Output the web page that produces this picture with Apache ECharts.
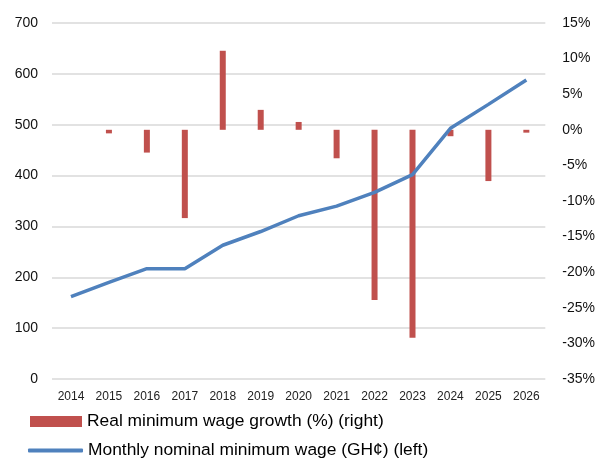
<!DOCTYPE html>
<html>
<head>
<meta charset="utf-8">
<script src="https://cdn.jsdelivr.net/npm/echarts@6/dist/echarts.min.js"></script>
<style>
  html, body { margin: 0; padding: 0; background: #fff; }
  #chart { width: 598px; height: 458px; }
</style>
</head>
<body>
<div id="chart"></div>
<script>
// years on the x axis
const years = ['2014', '2015', '2016', '2017', '2018', '2019', '2020',
  '2021', '2022', '2023', '2024', '2025', '2026']
// real minimum wage growth, % (right axis)
const realGrowth = [null, -0.5, -3.2, -12.4, 11.1, 2.8, 1.1, -4.0, -23.9, -29.2, -0.9, -7.2, -0.4]
// monthly nominal minimum wage, GH¢ (left axis)
const nominalWage = [162, 190, 217, 217, 263, 290, 321, 340, 367, 402, 493, 540, 588]

const barName = 'Real minimum wage growth (%) (right)'
const lineName = 'Monthly nominal minimum wage (GH¢) (left)'
const font = 'Liberation Sans, Arial, sans-serif'

const myChart = echarts.init(document.getElementById('chart'))

const option = {
  animation: false,
  textStyle: { fontFamily: font },
  grid: { left: 52, right: 49, top: 23, bottom: 79 },
  legend: [
    {
      left: 25, top: 408,
      itemWidth: 52, itemHeight: 11,
      icon: 'rect',
      data: [barName],
      textStyle: { fontSize: 17.4, color: '#000', fontFamily: font }
    },
    {
      left: 23, top: 437,
      itemWidth: 55, itemHeight: 4,
      icon: 'roundRect',
      data: [lineName],
      textStyle: { fontSize: 17.4, color: '#000', fontFamily: font }
    }
  ],
  xAxis: {
    type: 'category',
    data: years,
    axisLine: { show: false },
    axisTick: { show: false },
    axisLabel: { fontSize: 12, color: '#222', margin: 12 }
  },
  yAxis: [
    {
      type: 'value',
      min: 0, max: 700, interval: 100,
      axisLine: { show: false },
      axisTick: { show: false },
      axisLabel: { fontSize: 14, color: '#111', margin: 14 },
      splitLine: { lineStyle: { color: '#d9d9d9', width: 1.5 } }
    },
    {
      type: 'value',
      position: 'right',
      min: -35, max: 15, interval: 5,
      axisLine: { show: false },
      axisTick: { show: false },
      splitLine: { show: false },
      axisLabel: { fontSize: 14, color: '#111', margin: 17, formatter: '{value}%' }
    }
  ],
  series: [
    {
      name: barName,
      type: 'bar',
      yAxisIndex: 1,
      barWidth: 6,
      data: realGrowth,
      itemStyle: { color: '#c0504d' }
    },
    {
      name: lineName,
      type: 'line',
      yAxisIndex: 0,
      symbol: 'none',
      data: nominalWage,
      lineStyle: { color: '#4f81bd', width: 3.5 },
      itemStyle: { color: '#4f81bd' }
    }
  ]
}

myChart.setOption(option)
</script>
</body>
</html>
